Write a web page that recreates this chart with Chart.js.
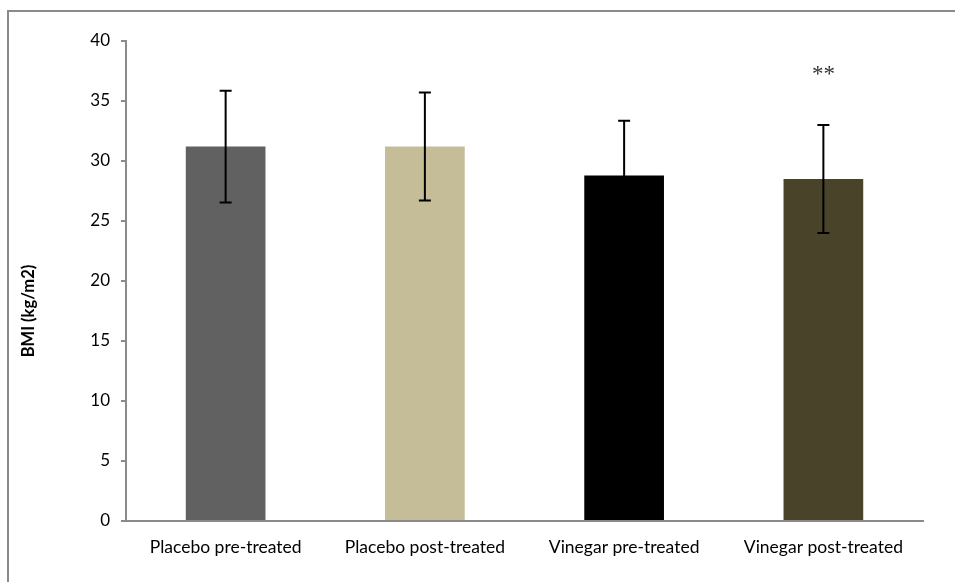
<!DOCTYPE html>
<html>
<head>
<meta charset="utf-8">
<script src="https://cdn.jsdelivr.net/npm/chart.js@4.4.0/dist/chart.umd.min.js"></script>
<style>
  html, body { margin: 0; padding: 0; background: #ffffff; }
  #wrap { width: 955px; height: 582px; position: relative; }
</style>
</head>
<body>
<div id="wrap"><canvas id="c" width="955" height="582"></canvas></div>
<script>
const categories = ["Placebo pre-treated", "Placebo post-treated", "Vinegar pre-treated", "Vinegar post-treated"];
const bmiMeans = [31.2, 31.2, 28.8, 28.5];
const bmiErrors = [4.65, 4.5, 4.55, 4.5];
const barColors = ["#616161", "#C4BD97", "#000000", "#494429"];
const significanceLabels = ["", "", "", "**"];
const significanceLevel = [null, null, null, 37.2];
const yTicks = [0, 5, 10, 15, 20, 25, 30, 35, 40];
const yAxisTitle = "BMI (kg/m2)";

const errorBarPlugin = {
  id: 'errorBars',
  afterDatasetsDraw(chart) {
    const ctx = chart.ctx;
    const x = chart.scales.x, y = chart.scales.y;
    ctx.save();
    ctx.strokeStyle = '#000000';
    ctx.lineWidth = 2;
    bmiMeans.forEach((m, i) => {
      const cx = x.getPixelForValue(i);
      const top = y.getPixelForValue(m + bmiErrors[i]);
      const bot = y.getPixelForValue(m - bmiErrors[i]);
      ctx.beginPath();
      ctx.moveTo(cx, top); ctx.lineTo(cx, bot);
      ctx.moveTo(cx - 6, top); ctx.lineTo(cx + 6, top);
      ctx.moveTo(cx - 6, bot); ctx.lineTo(cx + 6, bot);
      ctx.stroke();
    });
    ctx.fillStyle = '#333333';
    ctx.font = '23px "Liberation Serif", serif';
    ctx.textAlign = 'center';
    ctx.textBaseline = 'middle';
    significanceLabels.forEach((s, i) => {
      if (!s) return;
      ctx.fillText(s, x.getPixelForValue(i), y.getPixelForValue(significanceLevel[i]));
    });
    ctx.restore();
  },
  afterDraw(chart) {
    const ctx = chart.ctx;
    const area = chart.chartArea;
    ctx.save();
    // y-axis title (Excel places it slightly below the plot centre)
    ctx.translate(29, (area.top + area.bottom) / 2 + 30);
    ctx.rotate(-Math.PI / 2);
    ctx.fillStyle = '#000000';
    ctx.font = 'bold 16.5px Lato';
    ctx.textAlign = 'center';
    ctx.textBaseline = 'middle';
    ctx.fillText(yAxisTitle, 0, 0);
    ctx.restore();
    ctx.save();
    ctx.strokeStyle = '#8a8a8a';
    ctx.lineWidth = 2;
    ctx.strokeRect(8, 11, 1000, 1000);
    ctx.restore();
  }
};

new Chart(document.getElementById('c'), {
  type: 'bar',
  data: {
    labels: categories,
    datasets: [{
      data: bmiMeans,
      backgroundColor: barColors,
      borderWidth: 0,
      categoryPercentage: 1.0,
      barPercentage: 0.4
    }]
  },
  options: {
    responsive: false,
    animation: false,
    events: [],
    layout: { padding: { left: 8, right: 32, top: 41, bottom: 0 } },
    plugins: { legend: { display: false }, tooltip: { enabled: false } },
    scales: {
      x: {
        grid: { display: false, drawTicks: false },
        border: { color: '#8a8a8a', width: 2 },
        ticks: { color: '#000000', font: { family: 'Lato', size: 17.5 }, padding: 16, maxRotation: 0 },
        afterFit(scale) { scale.height = 61; }
      },
      y: {
        min: 0, max: 40,
        afterBuildTicks(scale) { scale.ticks = yTicks.map(v => ({ value: v })); },
        grid: { drawOnChartArea: false, tickLength: 5, color: '#8a8a8a', lineWidth: 2 },
        border: { color: '#8a8a8a', width: 2 },
        ticks: { color: '#000000', font: { family: 'Lato', size: 17 }, padding: 11 },
        title: { display: false },
        afterFit(scale) { scale.width = 118; }
      }
    }
  },
  plugins: [errorBarPlugin]
});
</script>
</body>
</html>
